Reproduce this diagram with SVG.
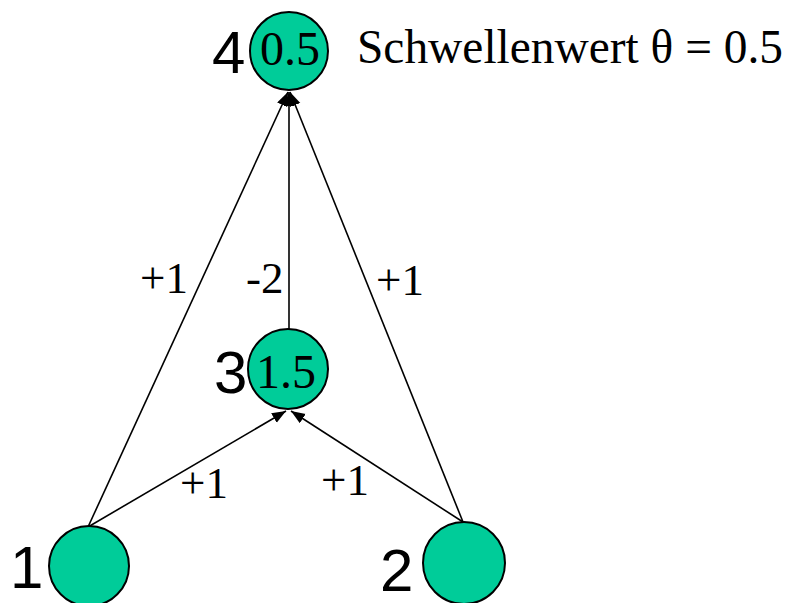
<svg xmlns="http://www.w3.org/2000/svg" width="793" height="603" viewBox="0 0 793 603">
<style>
.node{fill:#00CC99;stroke:#000;stroke-width:2}
.edge{stroke:#000;stroke-width:1.6;fill:none;marker-end:url(#arr)}
.num{font-family:"Liberation Sans",Arial,sans-serif;font-size:60px;fill:#000}
.val{font-family:"Liberation Serif","Times New Roman",serif;font-size:48px;fill:#000}
.lbl{font-family:"Liberation Serif","Times New Roman",serif;font-size:45px;fill:#000}
</style>
<defs>
<marker id="arr" markerUnits="userSpaceOnUse" markerWidth="15" markerHeight="12" refX="14" refY="5.5" orient="auto">
<path d="M0,0 L14,5.5 L0,11 z" fill="#000"/>
</marker>
</defs>
<rect width="793" height="603" fill="#fff"/>
<g id="connectors">
<line class="edge" x1="88" y1="527" x2="288" y2="92"/>
<line class="edge" x1="463" y1="522" x2="290" y2="92"/>
<line class="edge" x1="289" y1="329" x2="289" y2="92"/>
<line class="edge" x1="88" y1="527" x2="286" y2="411"/>
<line class="edge" x1="463" y1="522" x2="291" y2="411"/>
<text class="lbl" x="140" y="293">+1</text>
<text class="lbl" x="246" y="293">-2</text>
<text class="lbl" x="376" y="295">+1</text>
<text class="lbl" x="180" y="498">+1</text>
<text class="lbl" x="321" y="495">+1</text>
</g>
<g id="node4">
<circle class="node" cx="289" cy="51" r="39"/>
<text class="val" x="290" y="65" text-anchor="middle">0.5</text>
<text class="num" x="212" y="73">4</text>
</g>
<g id="node3">
<circle class="node" cx="288" cy="369" r="40"/>
<text class="val" x="286" y="388" text-anchor="middle">1.5</text>
<text class="num" x="214" y="393">3</text>
</g>
<g id="node1">
<circle class="node" cx="89" cy="566" r="40"/>
<text class="num" x="10" y="588">1</text>
</g>
<g id="node2">
<circle class="node" cx="464" cy="563" r="41"/>
<text class="num" x="380" y="591">2</text>
</g>
<g id="threshold">
<text class="val" x="357" y="63" font-size="47" textLength="426" lengthAdjust="spacingAndGlyphs">Schwellenwert θ = 0.5</text>
</g>
</svg>
